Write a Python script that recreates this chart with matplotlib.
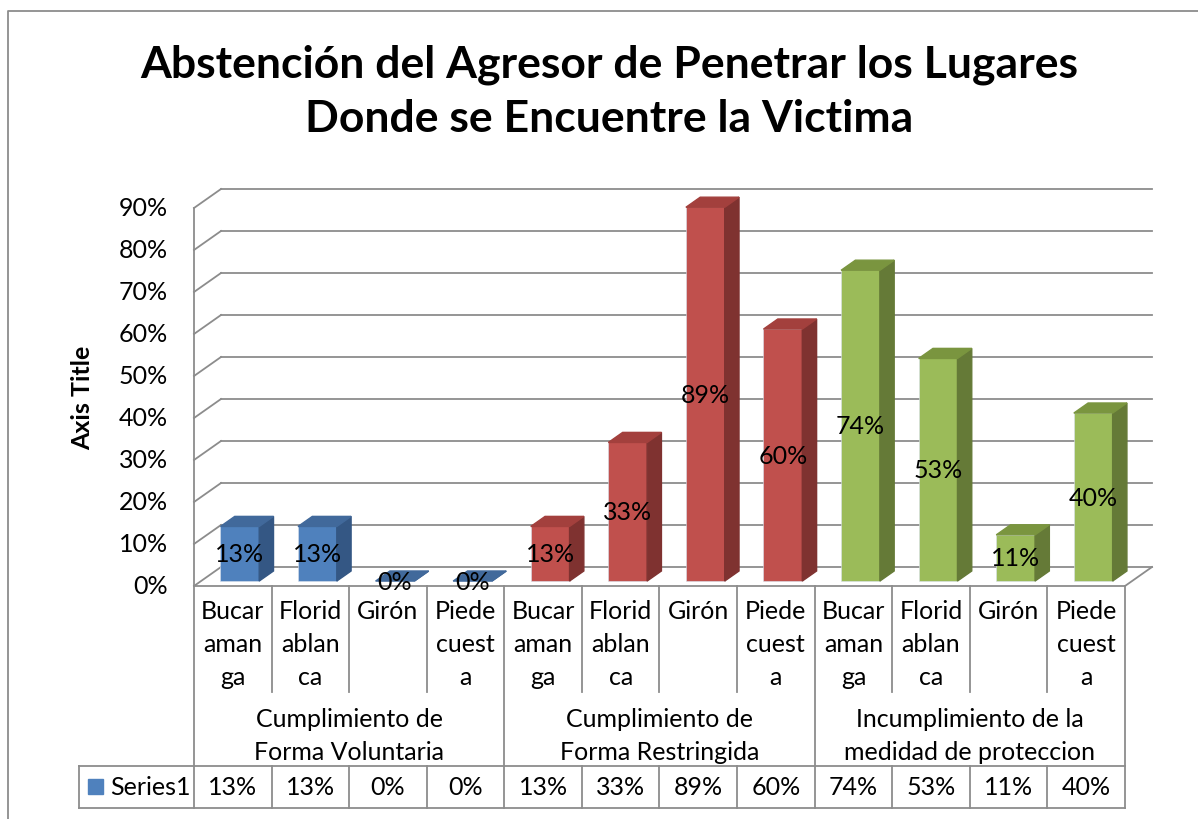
import matplotlib
matplotlib.use('Agg')
import matplotlib.pyplot as plt
from matplotlib.patches import Polygon, Rectangle

plt.rcParams['font.family'] = ['Lato', 'DejaVu Sans']

groups = ['Cumplimiento de\nForma Voluntaria',
          'Cumplimiento de\nForma Restringida',
          'Incumplimiento de la\nmedidad de proteccion']
cities = ['Bucar\naman\nga', 'Florid\nablan\nca', 'Girón', 'Piede\ncuest\na']
values = [13, 13, 0, 0,
          13, 33, 89, 60,
          74, 53, 11, 40]
series_name = 'Series1'
yticks = [0, 10, 20, 30, 40, 50, 60, 70, 80, 90]

front = {'blue': '#4F81BD', 'red': '#C0504D', 'green': '#9BBB59'}
side = {'blue': '#345784', 'red': '#7F3230', 'green': '#657A37'}
top = {'blue': '#41699B', 'red': '#A3403D', 'green': '#7A953F'}
group_colors = ['blue', 'red', 'green']

W, H = 1198, 820
# pixel layout of the front plane
X0, X1 = 194, 1125      # left/right edge of the category axis
Y0, PPY = 587, 4.2      # 0% row and pixels per percent
n = len(values)
PPX = (X1 - X0) / n
# depth of the 3d box (in data units)
DX = 27 / PPX
DY = 19 / PPY
D_FRONT, D_BACK = 0.26, 0.79
BAR_W = 0.5
FS = 18


def row(y):
    return (Y0 - y) / PPY


def col(x):
    return (x - X0) / PPX


def proj(x, v, d):
    return x + d * DX, v + d * DY


fig = plt.figure(figsize=(W / 100, H / 100), dpi=100)
ax = fig.add_axes([0, 0, 1, 1])
ax.set_xlim(col(0), col(W))
ax.set_ylim(row(H), row(0))
ax.axis('off')

grid = '#8C8C8C'
lw = 1.3

# walls: back gridlines and side wall diagonals
for t in yticks:
    xa, ya = proj(0, t, 1)
    xb, yb = proj(n, t, 1)
    ax.plot([xa, xb], [ya, yb], color=grid, lw=lw, zorder=1)
    xc, yc = proj(0, t, 0)
    ax.plot([xc, xa], [yc, ya], color=grid, lw=lw, zorder=1)
    ax.text(col(168), t, f'{t}%', ha='right', va='center', fontsize=FS)
ax.plot([0, 0], [0, yticks[-1]], color=grid, lw=lw, zorder=1)
# floor
xr, yr = proj(n, 0, 1)
ax.plot([0, n, xr], [0, 0, yr], color=grid, lw=lw, zorder=1)

# 3d bars
for i, v in enumerate(values):
    c = group_colors[i // 4]
    x = i + 0.5 - BAR_W / 2
    fx, fy = proj(x, 0, D_FRONT)
    ax.bar(fx, v, width=BAR_W, bottom=fy, align='edge', color=front[c],
           edgecolor='#d9e2ee', linewidth=0.4, zorder=3)
    p1 = proj(x + BAR_W, 0, D_FRONT)
    p2 = proj(x + BAR_W, v, D_FRONT)
    p3 = proj(x + BAR_W, v, D_BACK)
    p4 = proj(x + BAR_W, 0, D_BACK)
    ax.add_patch(Polygon([p1, p2, p3, p4], closed=True, color=side[c], zorder=3))
    q1 = proj(x, v, D_FRONT)
    q4 = proj(x, v, D_BACK)
    ax.add_patch(Polygon([q1, p2, p3, q4], closed=True, color=top[c], zorder=3))
    lx, ly = proj(i + 0.5, v / 2, D_FRONT)
    ax.text(lx, ly, f'{v}%', ha='center', va='center', fontsize=FS, zorder=4)

# data table
tc = '#8C8C8C'
r_top, r_mid, r_ser, r_bot = row(587), row(693), row(767), row(809)
ax.plot([0, 0], [r_top, r_bot], color=tc, lw=lw)
ax.plot([n, n], [r_top, r_bot], color=tc, lw=lw)
for i in range(1, n):
    if i % 4 == 0:
        ax.plot([i, i], [r_top, r_bot], color=tc, lw=lw)
    else:
        ax.plot([i, i], [r_top, r_mid], color=tc, lw=lw)
        ax.plot([i, i], [r_ser, r_bot], color=tc, lw=lw)
for r in (r_ser, r_bot):
    ax.plot([col(79), n], [r, r], color=tc, lw=lw)
ax.plot([col(79), col(79)], [r_ser, r_bot], color=tc, lw=lw)

for i, v in enumerate(values):
    ax.text(i + 0.5, row(600), cities[i % 4], ha='center', va='top',
            fontsize=FS, linespacing=1.52)
    ax.text(i + 0.5, row(788), f'{v}%', ha='center', va='center', fontsize=FS)
for g, name in enumerate(groups):
    ax.text(g * 4 + 2, row(736), name, ha='center', va='center',
            fontsize=FS, linespacing=1.48)
ax.add_patch(Rectangle((col(88), row(795)), col(103) - col(88), row(780) - row(795),
                       color=front['blue']))
ax.text(col(110), row(788), series_name, ha='left', va='center', fontsize=FS)

# titles
ax.text(col(609), row(92), 'Abstención del Agresor de Penetrar los Lugares\n'
        'Donde se Encuentre la Victima', ha='center', va='center',
        fontsize=32, fontweight='bold', linespacing=1.42)
ax.text(col(83), row(398), 'Axis Title', rotation=90, ha='center', va='center',
        fontsize=18, fontweight='bold')

# chart border
ax.plot([col(8), col(8), col(W)], [row(H), row(12), row(12)], color='#8C8C8C', lw=1.3)

fig.savefig('out.png', dpi=100)
